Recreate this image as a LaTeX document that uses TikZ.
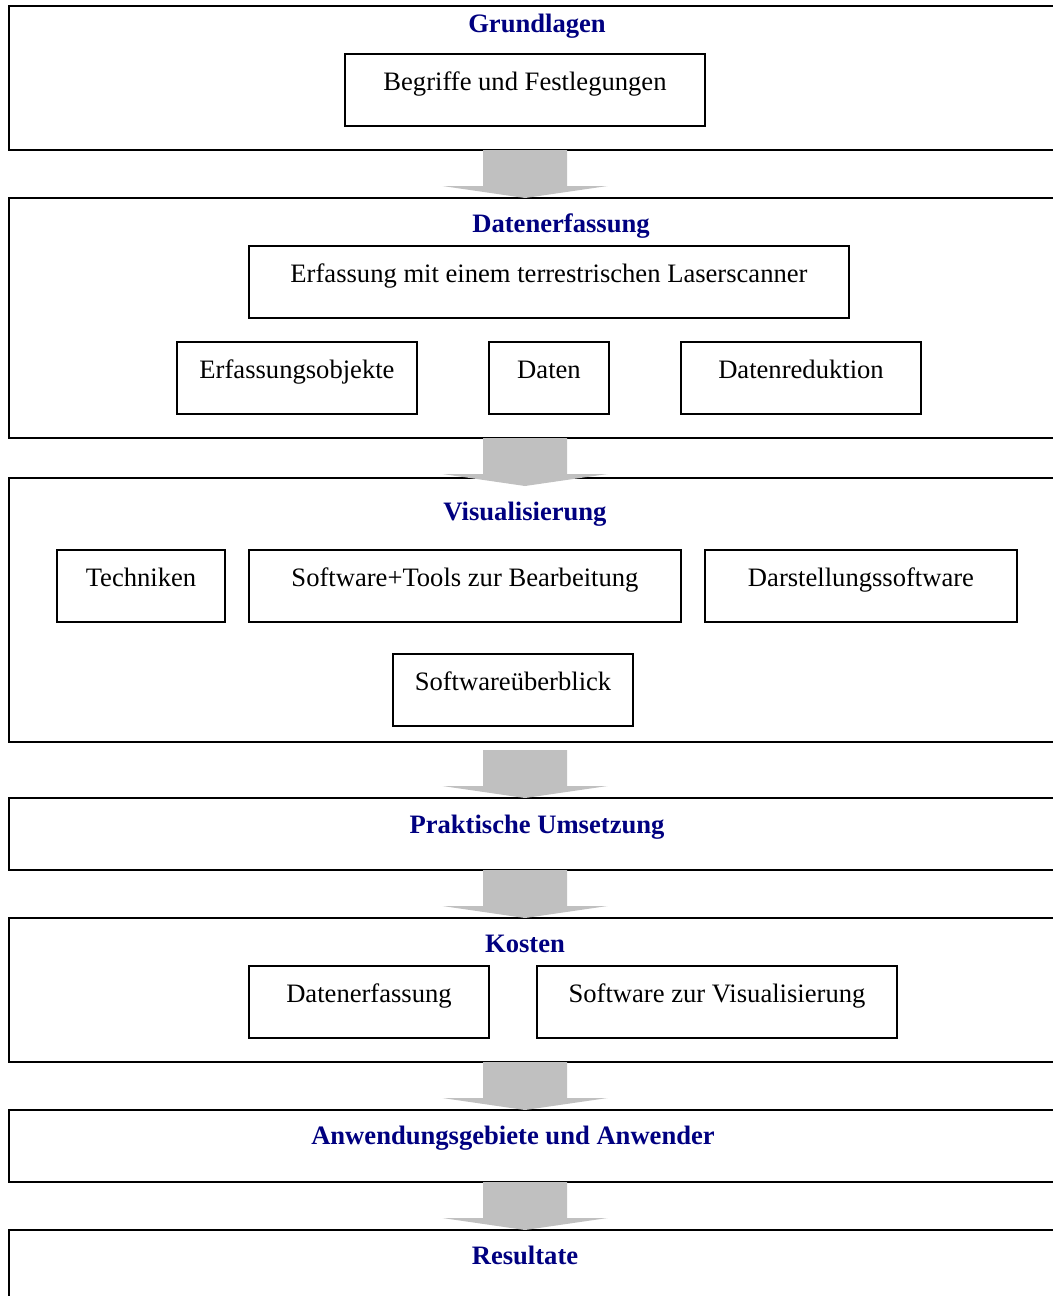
\documentclass[tikz,border=0pt]{standalone}
\usepackage{fontspec}
\setmainfont{Liberation Serif}
\definecolor{titleblue}{HTML}{000080}
\definecolor{arrowgray}{HTML}{C0C0C0}
\tikzset{
  stage/.style={draw=black, line width=1pt, rectangle, inner sep=0pt, outer sep=0pt,
    anchor=north west, minimum width={(1075-9)*0.5pt}, minimum height={#1*0.5pt}},
  item/.style={draw=black, line width=1pt, rectangle, inner sep=0pt, outer sep=0pt,
    anchor=north west, minimum width={#1*0.5pt}, text height=18pt, text depth=18pt,
    font=\fontsize{13.3}{16}\selectfont},
  heading/.style={anchor=base, inner sep=0pt, text=titleblue,
    font=\fontsize{13.3}{16}\selectfont\bfseries},
  flow/.style={fill=arrowgray, draw=none}
}
% broad downward block arrow, 48 units long, starting at the given point
\newcommand\flowarrow[1]{%
  \fill[flow] #1 ++(-42,0) -- ++(84,0) -- ++(0,36) -- ++(40.5,0)
    -- ++(-82.5,12) -- ++(-82.5,-12) -- ++(40.5,0) -- cycle;}
\begin{document}
\begin{tikzpicture}[x=0.5pt, y=-0.5pt]
\useasboundingbox (0,0) rectangle (1053,1296);
\fill[white] (0,0) rectangle (1053,1296);
\clip (0,0) rectangle (1053,1296);

% stages
\node[stage=144] (s1) at (9,6) {};
\node[stage=240] (s2) at (9,198) {};
\node[stage=264] (s3) at (9,478) {};
\node[stage=72]  (s4) at (9,798) {};
\node[stage=144] (s5) at (9,918) {};
\node[stage=72]  (s6) at (9,1110) {};
\node[stage=120] (s7) at (9,1230) {};

% stage headings
\node[heading] (h1) at (537,32)   {Grundlagen};
\node[heading] (h2) at (561,232)  {Datenerfassung};
\node[heading] (h3) at (525,520)  {Visualisierung};
\node[heading] (h4) at (537,833)  {Praktische Umsetzung};
\node[heading] (h5) at (525,952)  {Kosten};
\node[heading] (h6) at (513,1144) {Anwendungsgebiete und Anwender};
\node[heading] (h7) at (525,1264) {Resultate};

% topics
\node[item=360] (t11) at (345,54)  {Begriffe und Festlegungen};
\node[item=600] (t21) at (249,246) {Erfassung mit einem terrestrischen Laserscanner};
\node[item=240] (t22) at (177,342) {Erfassungsobjekte};
\node[item=120] (t23) at (489,342) {Daten};
\node[item=240] (t24) at (681,342) {Datenreduktion};
\node[item=168] (t31) at (57,550)  {Techniken};
\node[item=432] (t32) at (249,550) {Software+Tools zur Bearbeitung};
\node[item=312] (t33) at (705,550) {Darstellungssoftware};
\node[item=240] (t34) at (393,654) {Softwareüberblick};
\node[item=240] (t51) at (249,966) {Datenerfassung};
\node[item=360] (t52) at (537,966) {Software zur Visualisierung};

% flow between stages
\coordinate (axis) at (525,0);
\flowarrow{(axis |- s1.south)}
\flowarrow{(axis |- s2.south)}
\flowarrow{([yshift=24pt]axis |- s4.north)}
\flowarrow{(axis |- s4.south)}
\flowarrow{(axis |- s5.south)}
\flowarrow{(axis |- s6.south)}
\end{tikzpicture}
\end{document}
